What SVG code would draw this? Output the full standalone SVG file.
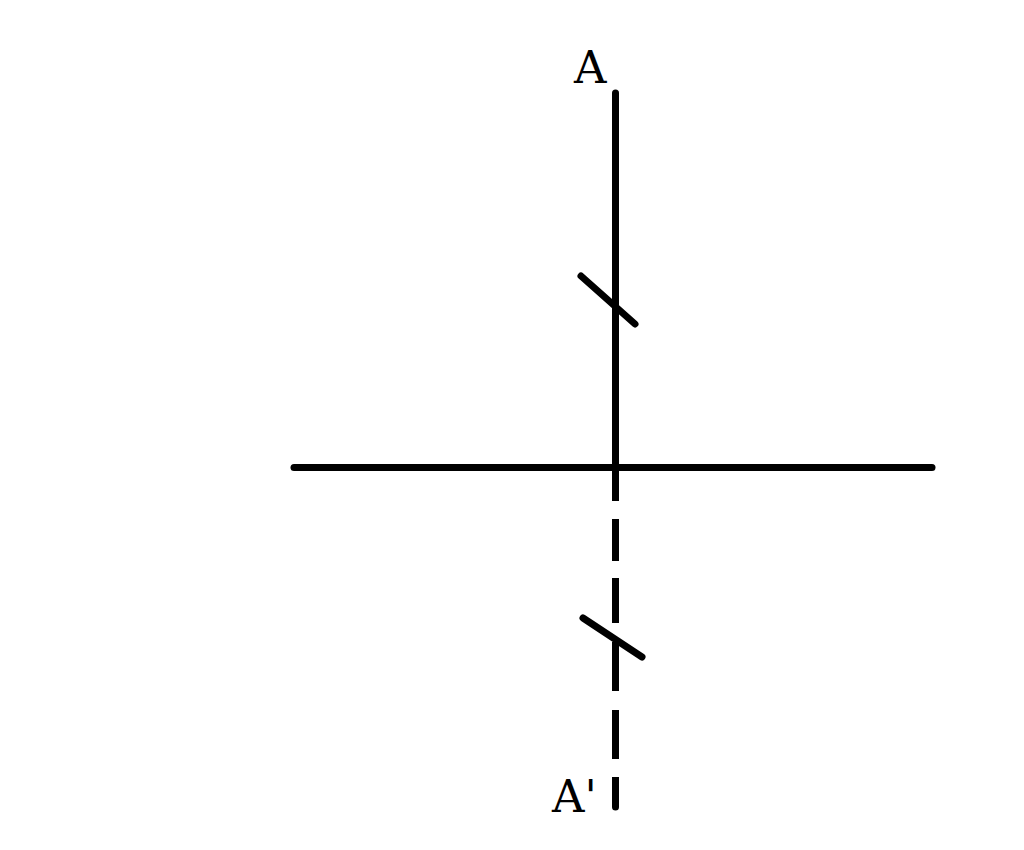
<svg xmlns="http://www.w3.org/2000/svg" width="1024" height="850" viewBox="0 0 1024 850">
<style>
.ln{stroke:#000;stroke-width:7;fill:none}
.rc{stroke-linecap:round}
.lbl{font-family:"DejaVu Serif","Liberation Serif",serif;font-size:45px;fill:#000}
</style>
<rect width="1024" height="850" fill="#fff"/>
<g id="connectors">
<line class="ln rc" x1="294" y1="467.5" x2="932" y2="467.5"/>
<line class="ln rc" x1="615.5" y1="93" x2="615.5" y2="467.5"/>
<path class="ln" d="M615.5 467V501M615.5 519V561M615.5 578V623M615.5 642V691M615.5 710V759M615.5 777V807"/>
<line class="ln rc" x1="615.5" y1="806" x2="615.5" y2="807"/>
<line class="ln rc" x1="581" y1="276" x2="635" y2="324"/>
<line class="ln rc" x1="583" y1="618" x2="642" y2="657"/>
</g>
<g id="label-A"><text class="lbl" x="574" y="83">A</text></g>
<g id="label-A-prime"><text class="lbl" x="552" y="812">A'</text></g>
</svg>
